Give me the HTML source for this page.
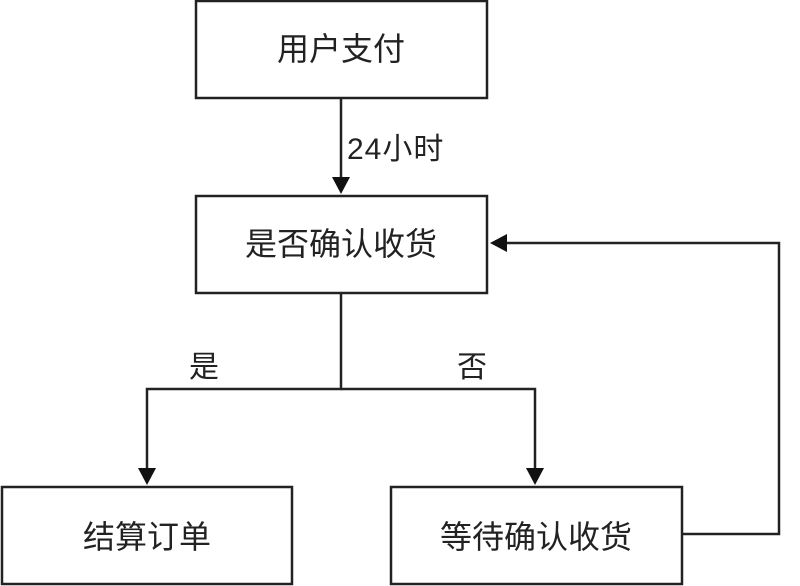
<!DOCTYPE html>
<html><head><meta charset="utf-8"><style>
html,body{margin:0;padding:0;background:#fff;width:800px;height:586px;overflow:hidden}
svg text{font-family:"Liberation Sans","Noto Sans CJK SC",sans-serif;fill:#222}
</style></head><body>
<svg width="800" height="586" viewBox="0 0 800 586" xmlns="http://www.w3.org/2000/svg">
<g fill="none" stroke="#222" stroke-width="2.5">
<rect x="196" y="1" width="291" height="97"/>
<rect x="196" y="196" width="291" height="97"/>
<rect x="2" y="487" width="290" height="97"/>
<rect x="391" y="487" width="291" height="97"/>
<line x1="341" y1="98" x2="341" y2="180"/>
<polyline points="341,293 341,389 147,389 147,470"/>
<polyline points="341,389 535,389 535,470"/>
<polyline points="682,534 779,534 779,243 505,243"/>
</g>
<g fill="#111">
<polygon points="332,177 350,177 341,194"/>
<polygon points="138,468 156,468 147,485"/>
<polygon points="526,468 544,468 535,485"/>
<polygon points="507,234 507,252 490,243"/>
</g>
<g font-size="32" text-anchor="middle">
<text x="341" y="60">用户支付</text>
<text x="341" y="255">是否确认收货</text>
<text x="147" y="548">结算订单</text>
<text x="536" y="548">等待确认收货</text>
</g>
<g font-size="30">
<text x="347" y="159" letter-spacing="1">24小时</text>
<text x="189" y="377">是</text>
<text x="457" y="377">否</text>
</g>
</svg>
</body></html>
